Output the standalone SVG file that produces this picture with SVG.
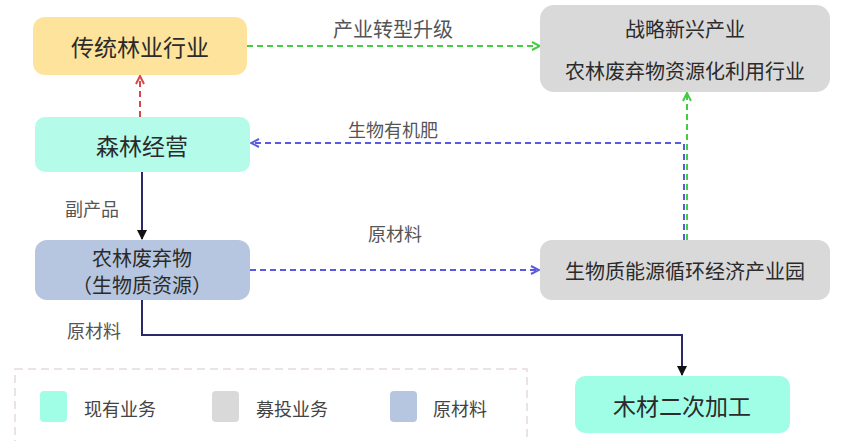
<svg xmlns="http://www.w3.org/2000/svg" width="841" height="441" viewBox="0 0 841 441">
<style>
.nt{font-family:"Noto Sans CJK SC","Noto Sans",sans-serif;fill:#2b2b2b;text-anchor:middle;dominant-baseline:central}
.big{font-size:23px}
.mid{font-size:20px}
.lbl{font-family:"Noto Sans CJK SC","Noto Sans",sans-serif;fill:#555;font-size:18px;text-anchor:middle;dominant-baseline:central}
.dash{fill:none;stroke-width:2;stroke-dasharray:6 4}
.solid{fill:none;stroke:#2a2a6a;stroke-width:2}
</style>
<defs>
<marker id="aG" viewBox="0 0 10 10" refX="9" refY="5" markerWidth="10" markerHeight="10" markerUnits="userSpaceOnUse" orient="auto"><path d="M1,1 L9,5 L1,9" fill="none" stroke="#44cc44" stroke-width="2"/></marker>
<marker id="aR" viewBox="0 0 10 10" refX="9" refY="5" markerWidth="10" markerHeight="10" markerUnits="userSpaceOnUse" orient="auto"><path d="M1,1 L9,5 L1,9" fill="none" stroke="#d94848" stroke-width="2"/></marker>
<marker id="aB" viewBox="0 0 10 10" refX="9" refY="5" markerWidth="10" markerHeight="10" markerUnits="userSpaceOnUse" orient="auto"><path d="M1,1 L9,5 L1,9" fill="none" stroke="#5a5ae0" stroke-width="2"/></marker>
<marker id="aK" viewBox="0 0 10 10" refX="9" refY="5" markerWidth="10" markerHeight="10" markerUnits="userSpaceOnUse" orient="auto"><path d="M0,0 L10,5 L0,10 Z" fill="#111"/></marker>
</defs>
<rect width="841" height="441" fill="#fff"/>

<g id="connectors">
  <path class="dash" stroke="#44cc44" d="M247,46 H540" marker-end="url(#aG)"/>
  <path class="dash" stroke="#d94848" d="M140,117 V76" marker-end="url(#aR)"/>
  <path class="dash" stroke="#5a5ae0" d="M684,240 V143 H251" marker-end="url(#aB)"/>
  <path class="dash" stroke="#44cc44" d="M687,240 V93" marker-end="url(#aG)"/>
  <path class="solid" d="M142,172 V239" marker-end="url(#aK)"/>
  <path class="dash" stroke="#5a5ae0" d="M250,270 H539" marker-end="url(#aB)"/>
  <path class="solid" d="M142,300 V335 H682 V375" marker-end="url(#aK)"/>
  <text class="lbl" x="393" y="28" style="font-size:20px">产业转型升级</text>
  <text class="lbl" x="393" y="129">生物有机肥</text>
  <text class="lbl" x="92" y="208">副产品</text>
  <text class="lbl" x="395" y="233">原材料</text>
  <text class="lbl" x="94" y="330">原材料</text>
</g>

<g id="traditional">
  <rect x="33" y="17" width="214" height="58" rx="12" fill="#fde39b"/>
  <text class="nt big" x="140" y="46">传统林业行业</text>
</g>
<g id="strategic">
  <rect x="540" y="5" width="290" height="87" rx="14" fill="#d9d9d9"/>
  <text class="nt mid" x="685" y="28">战略新兴产业</text>
  <text class="nt mid" x="685" y="70">农林废弃物资源化利用行业</text>
</g>
<g id="forest">
  <rect x="35" y="117" width="215" height="55" rx="10" fill="#b4fbe9"/>
  <text class="nt big" x="142" y="145">森林经营</text>
</g>
<g id="biomass">
  <rect x="35" y="240" width="215" height="60" rx="12" fill="#b6c6e0"/>
  <text class="nt mid" x="142" y="257">农林废弃物</text>
  <text class="nt mid" x="142" y="284">（生物质资源）</text>
</g>
<g id="park">
  <rect x="540" y="240" width="290" height="60" rx="12" fill="#d9d9d9"/>
  <text class="nt mid" x="685" y="270">生物质能源循环经济产业园</text>
</g>
<g id="wood">
  <rect x="575" y="376" width="215" height="57" rx="10" fill="#a0fde6"/>
  <text class="nt big" x="682" y="405">木材二次加工</text>
</g>
<g id="legend">
  <rect x="15" y="369" width="512" height="80" fill="none" stroke="#e6dcdc" stroke-width="1.5" stroke-dasharray="8 5"/>
  <rect x="40" y="391" width="27" height="31" rx="4" fill="#a0fde6"/>
  <text class="nt" style="font-size:18px;fill:#444" x="120" y="408">现有业务</text>
  <rect x="212" y="391" width="27" height="31" rx="4" fill="#d9d9d9"/>
  <text class="nt" style="font-size:18px;fill:#444" x="292" y="408">募投业务</text>
  <rect x="390" y="391" width="27" height="31" rx="4" fill="#b6c6e0"/>
  <text class="nt" style="font-size:18px;fill:#444" x="460" y="408">原材料</text>
</g>
</svg>
